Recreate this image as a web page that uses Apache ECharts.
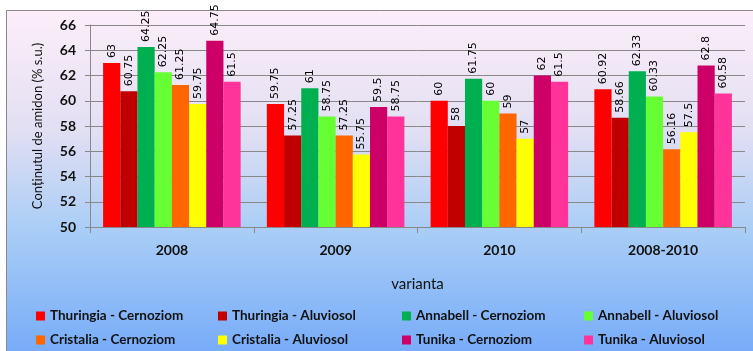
<!DOCTYPE html>
<html>
<head>
<meta charset="utf-8">
<script src="https://cdn.jsdelivr.net/npm/echarts@6/dist/echarts.min.js"></script>
<style>
  html, body { margin: 0; padding: 0; background: #fff; }
  #chart { width: 753px; height: 351px; }
</style>
</head>
<body>
<div id="chart"></div>
<script>
// Starch content by year, variety and soil type
const categories = ['2008', '2009', '2010', '2008-2010'];
const seriesNames = [
  'Thuringia - Cernoziom', 'Thuringia - Aluviosol',
  'Annabell - Cernoziom', 'Annabell - Aluviosol',
  'Cristalia - Cernoziom', 'Cristalia - Aluviosol',
  'Tunika - Cernoziom', 'Tunika - Aluviosol'
];
const thuringiaCernoziom = [63, 59.75, 60, 60.92];
const thuringiaAluviosol = [60.75, 57.25, 58, 58.66];
const annabellCernoziom = [64.25, 61, 61.75, 62.33];
const annabellAluviosol = [62.25, 58.75, 60, 60.33];
const cristaliaCernoziom = [61.25, 57.25, 59, 56.16];
const cristaliaAluviosol = [59.75, 55.75, 57, 57.5];
const tunikaCernoziom = [64.75, 59.5, 62, 62.8];
const tunikaAluviosol = [61.5, 58.75, 61.5, 60.58];
const yTicks = { min: 50, max: 66, interval: 2 };

const seriesValues = [
  thuringiaCernoziom, thuringiaAluviosol,
  annabellCernoziom, annabellAluviosol,
  cristaliaCernoziom, cristaliaAluviosol,
  tunikaCernoziom, tunikaAluviosol
];
const colors = ['#ff0000', '#c00000', '#00b050', '#66ff33',
                '#ff6600', '#ffff00', '#cc0066', '#ff3399'];

const chart = echarts.init(document.getElementById('chart'), null, { renderer: 'canvas' });

// legend laid out as a 4 x 2 table
const legendCols = [31, 213, 397, 579];
const legendRows = [304, 328];
const legends = seriesNames.map((name, i) => ({
  data: [name],
  left: legendCols[i % 4],
  top: legendRows[Math.floor(i / 4)],
  itemWidth: 9, itemHeight: 9, itemGap: 0,
  icon: 'rect',
  textStyle: { fontFamily: 'Lato', fontWeight: 'bold', fontSize: 13.5, color: '#111' }
}));

chart.setOption({
  animation: false,
  backgroundColor: '#ffffff',
  color: colors,
  graphic: [{
    type: 'rect',
    z: -10,
    shape: { x: 6.5, y: 10.5, width: 800, height: 400 },
    style: {
      stroke: '#8a8a8a', lineWidth: 1,
      fill: new echarts.graphic.LinearGradient(0, 0, 0, 1, [
        { offset: 0, color: '#fdeef9' },
        { offset: 0.3, color: '#e2dff3' },
        { offset: 0.55, color: '#a9cdf6' },
        { offset: 1, color: '#5f9cfa' }
      ])
    }
  }],
  grid: { left: 90, right: 8, top: 25, bottom: 124 },
  legend: legends,
  xAxis: {
    type: 'category',
    data: categories,
    name: 'varianta',
    nameLocation: 'middle',
    nameGap: 50,
    nameTextStyle: { fontFamily: 'Lato', fontSize: 15, color: '#111' },
    axisLine: { lineStyle: { color: '#888', width: 1 } },
    axisTick: { show: true, length: 6, lineStyle: { color: '#888' } },
    axisLabel: { margin: 16, fontFamily: 'Lato', fontWeight: 'bold', fontSize: 14, color: '#111' }
  },
  yAxis: {
    type: 'value',
    min: yTicks.min, max: yTicks.max, interval: yTicks.interval,
    name: 'Conținutul de amidon (% s.u.)',
    nameLocation: 'middle',
    nameGap: 46,
    nameTextStyle: { fontFamily: 'Lato', fontSize: 13, color: '#111' },
    axisLine: { show: true, lineStyle: { color: '#888', width: 1 } },
    axisTick: { show: true, length: 5, lineStyle: { color: '#888' } },
    axisLabel: { margin: 14, fontFamily: 'Lato', fontWeight: 'bold', fontSize: 14, color: '#111' },
    splitLine: { show: true, lineStyle: { color: '#888', width: 1 } }
  },
  series: seriesNames.map((name, i) => ({
    name: name,
    type: 'bar',
    data: seriesValues[i],
    barGap: 0,
    barCategoryGap: '16%',
    itemStyle: { color: colors[i] },
    label: {
      show: true,
      position: 'top',
      rotate: 90,
      align: 'left',
      verticalAlign: 'middle',
      distance: 5,
      fontFamily: 'DejaVu Sans',
      fontSize: 11,
      color: '#000'
    }
  }))
});
</script>
</body>
</html>
